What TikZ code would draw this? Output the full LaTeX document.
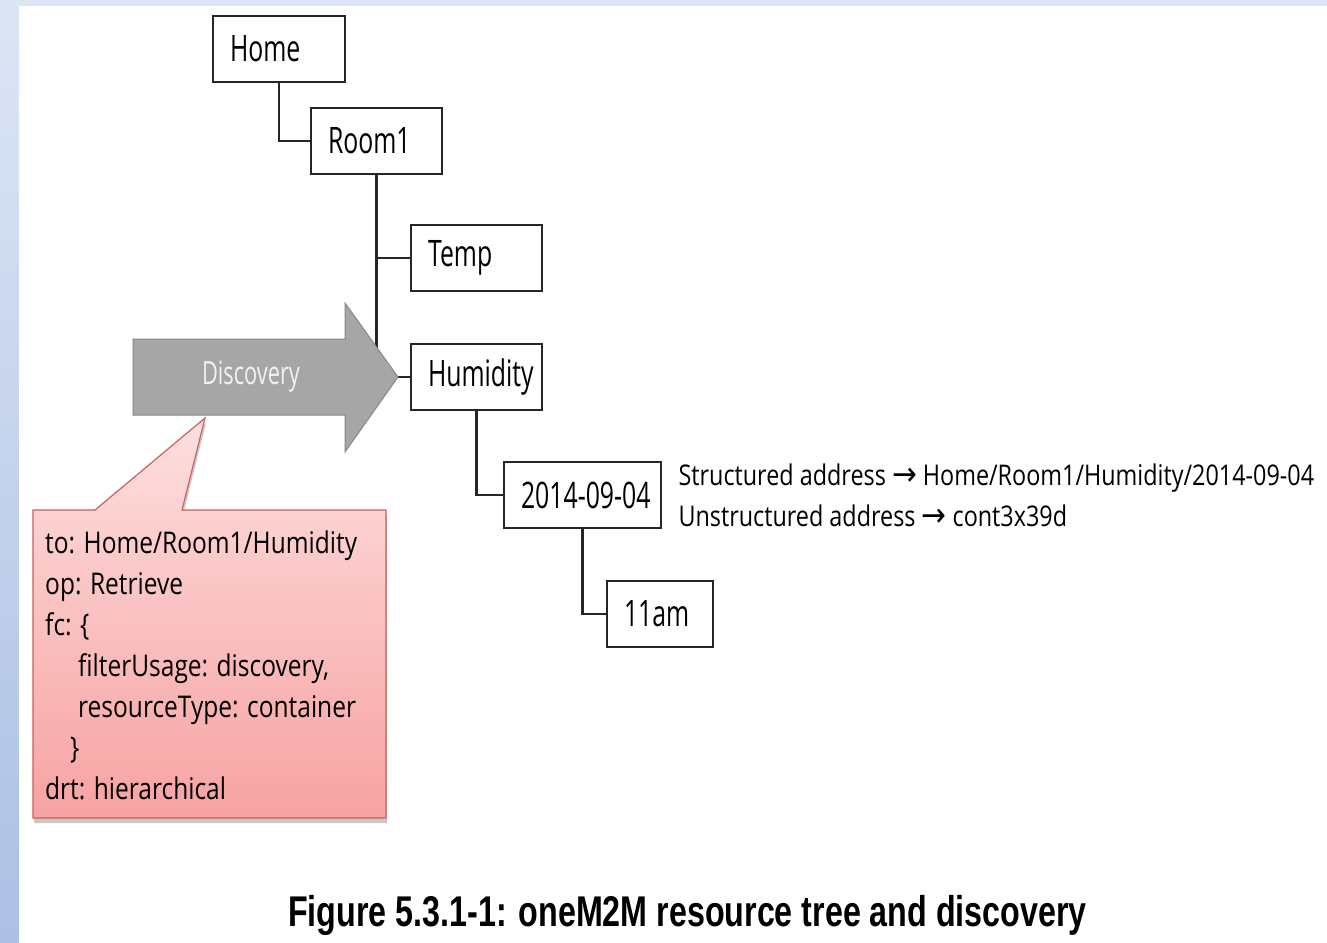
\documentclass[tikz,border=0pt]{standalone}
\usepackage{fontspec}
\setmainfont[FakeStretch=0.82]{Open Sans}
\newfontfamily\boxfont[FakeStretch=0.68]{Open Sans}
\newfontfamily\arrowfont[FakeStretch=0.9]{DejaVu Sans}
\newfontfamily\capfont[FakeStretch=0.75]{Liberation Sans}
\usetikzlibrary{shadows,positioning}
\definecolor{bandtop}{RGB}{220,229,244}
\definecolor{bandbot}{RGB}{172,192,228}
\definecolor{arrowgray}{RGB}{166,166,166}
\definecolor{arrowedge}{RGB}{135,135,135}
\definecolor{pinktop}{RGB}{253,224,223}
\definecolor{pinkbot}{RGB}{247,162,162}
\definecolor{pinkedge}{RGB}{205,95,93}
\newcommand{\addrarrow}{{\arrowfont\fontsize{33}{41}\selectfont →}}

\begin{document}
\begin{tikzpicture}[x=1pt,y=-1pt,
  res/.style={draw=black!85,line width=2.7pt,fill=white,minimum height=66pt,inner xsep=17pt,inner ysep=0pt,align=left,font=\boxfont\fontsize{36.5}{40}\selectfont},
  link/.style={draw=black!85,line width=2.3pt},
  callout/.style={draw=pinkedge,line width=1.2pt,top color=pinktop,bottom color=pinkbot,
    drop shadow={shadow xshift=1pt,shadow yshift=-5pt,opacity=0.3,fill=black!70}},
  plain/.style={inner sep=0pt,align=left,font=\fontsize{29.9}{41}\selectfont}]
\useasboundingbox (0,0) rectangle (1327,942);
\fill[bandtop] (0,0) rectangle (1327,6);
\shade[top color=bandtop,bottom color=bandbot] (0,0) rectangle (19,942);
\fill[white] (19,6) rectangle (1327,942);

% resource tree
\node[res,text width=98pt] (home) at (279,49) {Home};
\node[res,text width=97pt] (room) at (376.5,141) {Room1};
\node[res,text width=97pt] (temp) at (476.5,258) {Temp};
\node[res,text width=97pt] (hum) at (476.5,377) {Humidity};
\node[res,text width=123pt] (date) at (582.5,495) {\mbox{2014-09-04}};
\node[res,text width=72pt] (hour) at (660,614) {11am};
\draw[link] (home.south) |- (room.west);
\draw[link] (room.south) |- (temp.west);
\draw[link] (room.south) |- (hum.west);
\draw[link] (hum.south) |- (date.west);
\draw[link] (date.south) |- (hour.west);

\node[plain,font=\fontsize{28.5}{41}\selectfont,right=16pt of date] (addr) {Structured address \addrarrow{} Home/Room1/Humidity/2014-09-04\\Unstructured address \addrarrow{} cont3x39d};

% discovery arrow
\fill[arrowgray,draw=arrowedge,line width=1pt] (133,339) -- (345,339) -- (345,303) -- (398,377) -- (345,452) -- (345,415) -- (133,415) -- cycle;
\node[text=white!95!black,font=\boxfont\fontsize{32}{36}\selectfont] (disc) at (251,377) {Discovery};

% request callout
\path[callout] (33,510) -- (95,510) -- (205,418) -- (182,510) -- (386,510) -- (386,818) -- (33,818) -- cycle;
\node[plain,anchor=north west] (req) at (45,531) {to: Home/Room1/Humidity\\op: Retrieve\\fc: \{\\\hspace*{33pt}filterUsage: discovery,\\\hspace*{33pt}resourceType: container\\\hspace*{25pt}\}\\drt: hierarchical};

\node[font=\capfont\bfseries\fontsize{43}{50}\selectfont] (cap) at (687.5,915) {Figure 5.3.1-1: oneM2M resource tree and discovery};
\end{tikzpicture}
\end{document}
